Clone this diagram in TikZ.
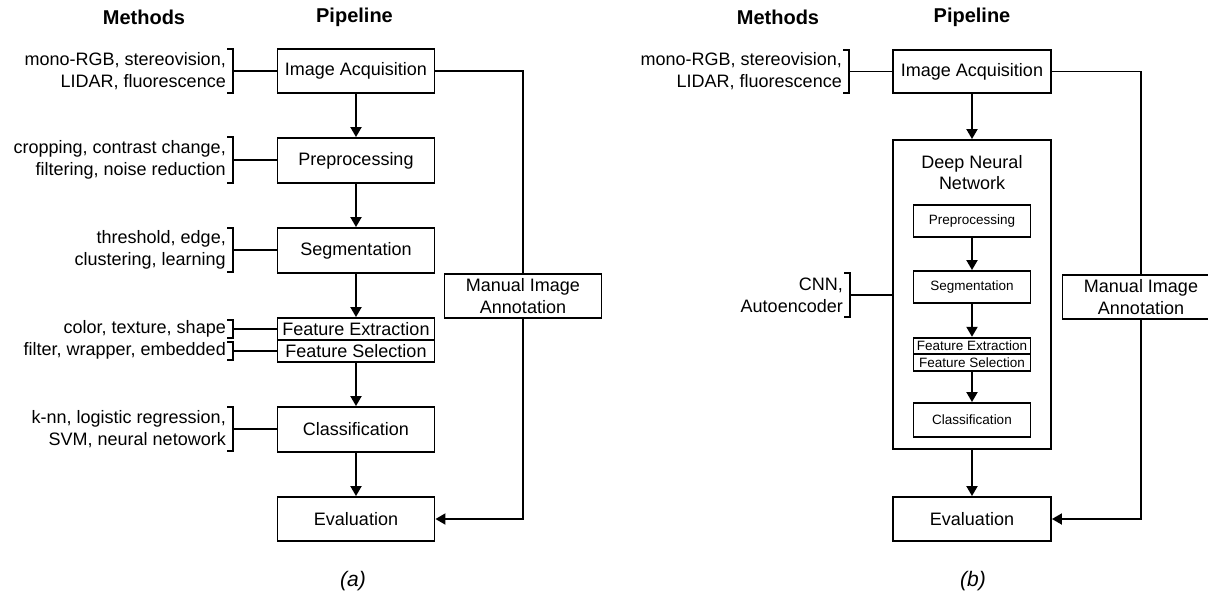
\documentclass[tikz,border=0pt]{standalone}
\usepackage{fontspec}
\setmainfont{Liberation Sans}
\usetikzlibrary{arrows.meta}

% bracket grouping a list of methods, with a lead line to a pipeline stage
% #1 coordinate name, #2 bracket x, #3 top y, #4 bottom y, #5 target node
\newcommand{\methodbracket}[5]{%
  \draw[conn] (#2-6,#3) -- (#2,#3) -- (#2,#4) -- (#2-6,#4);
  \coordinate (#1) at (#2,{(#3+#4)/2});
  \draw[conn] (#1) -- (#1 -| #5.west);
}

\begin{document}
\begin{tikzpicture}[x=1pt,y=-1pt,
  conn/.style={line width=1.9pt},
  arr/.style={line width=1.9pt,-{Triangle[width=11pt,length=10pt]}},
  box/.style={draw,line width=1.9pt,minimum width=157pt,minimum height=44pt,
    inner sep=0pt,align=center,font=\fontsize{18}{22}\selectfont},
  thinbox/.style={box,minimum height=22pt},
  ibox/.style={draw,line width=1.9pt,minimum width=117pt,minimum height=32pt,
    inner sep=0pt,align=center,font=\fontsize{13.5}{16}\selectfont},
  ithin/.style={ibox,minimum height=16.5pt},
  mtext/.style={anchor=east,inner sep=0pt,align=right,font=\fontsize{18}{22}\selectfont},
  head/.style={inner sep=0pt,font=\bfseries\fontsize{20}{24}\selectfont},
  caption/.style={inner sep=0pt,font=\itshape\fontsize{21}{24}\selectfont}]

\useasboundingbox (0,0) rectangle (1208,598);
\clip (0,0) rectangle (1208,598);

% ---------------- (a) classical pipeline ----------------
\node[head] (hm1) at (144,17) {Methods};
\node[head] (hp1) at (354.5,17) {Pipeline};

\node[box] (ia) at (356,71) {Image Acquisition};
\node[box,minimum height=45pt] (pre) at (356,160.5) {Preprocessing};
\node[box,minimum height=45pt] (seg) at (356,250.5) {Segmentation};
\node[thinbox] (fe) at (356,329) {Feature Extraction};
\node[thinbox] (fs) at (356,351) {Feature Selection};
\node[box,minimum height=45pt] (cls) at (356,429.5) {Classification};
\node[box] (ev) at (356,519) {Evaluation};
\node[box] (mia) at (523,296) {Manual Image\\Annotation};

\draw[arr] (ia.south) -- (pre.north);
\draw[arr] (pre.south) -- (seg.north);
\draw[arr] (seg.south) -- (fe.north);
\draw[arr] (fs.south) -- (cls.north);
\draw[arr] (cls.south) -- (ev.north);
\draw[conn] (ia.east) -| (mia.north);
\draw[arr] (mia.south) |- (ev.east);

\node[mtext] (m1) at (226,71) {mono-RGB, stereovision,\\LIDAR, fluorescence};
\node[mtext] (m2) at (226,160) {cropping, contrast change,\\filtering, noise reduction};
\node[mtext] (m3) at (226,250) {threshold, edge,\\clustering, learning};
\node[mtext] (m4) at (226,329) {color, texture, shape};
\node[mtext] (m5) at (226,351) {filter, wrapper, embedded};
\node[mtext] (m6) at (226,429.5) {k-nn, logistic regression,\\SVM, neural netowork};

\methodbracket{b1}{233}{49}{93}{ia}
\methodbracket{b2}{233}{137}{183}{pre}
\methodbracket{b3}{233}{228}{272}{seg}
\methodbracket{b4}{233}{320}{338}{fe}
\methodbracket{b5}{233}{342}{360}{fs}
\methodbracket{b6}{233}{407}{451}{cls}

\node[caption] (ca) at (353,581) {(a)};

% ---------------- (b) deep learning pipeline ----------------
\node[head] (hm2) at (778,17) {Methods};
\node[head] (hp2) at (972,17) {Pipeline};

\node[box,minimum height=43pt,minimum width=158pt] (ia2) at (972,71.5) {Image Acquisition};
\node[draw,line width=1.9pt,minimum width=158pt,minimum height=309pt,inner sep=0pt] (dnn) at (972,294.5) {};
\node[inner sep=0pt,align=center,font=\fontsize{18}{21}\selectfont] (dnnl) at (972,172.5) {Deep Neural\\Network};
\node[ibox] (pre2) at (972,221) {Preprocessing};
\node[ibox] (seg2) at (972,287) {Segmentation};
\node[ithin] (fe2) at (972,346) {Feature Extraction};
\node[ithin] (fs2) at (972,362.5) {Feature Selection};
\node[ibox,minimum height=34pt] (cls2) at (972,420) {Classification};
\node[box,minimum width=158pt] (ev2) at (972,519) {Evaluation};
\node[box] (mia2) at (1141,297) {Manual Image\\Annotation};

\draw[arr] (ia2.south) -- (dnn.north);
\draw[arr] (pre2.south) -- (seg2.north);
\draw[arr] (seg2.south) -- (fe2.north);
\draw[arr] (fs2.south) -- (cls2.north);
\draw[arr] (dnn.south) -- (ev2.north);
\draw[conn] (ia2.east) -| (mia2.north);
\draw[arr] (mia2.south) |- (ev2.east);

\node[mtext] (m7) at (842,71.5) {mono-RGB, stereovision,\\LIDAR, fluorescence};
\node[mtext] (m8) at (843,295) {CNN,\\Autoencoder};

\methodbracket{b7}{849}{50}{93}{ia2}
\methodbracket{b8}{850}{273}{317}{dnn}

\node[caption] (cb) at (973,581) {(b)};

\end{tikzpicture}
\end{document}
